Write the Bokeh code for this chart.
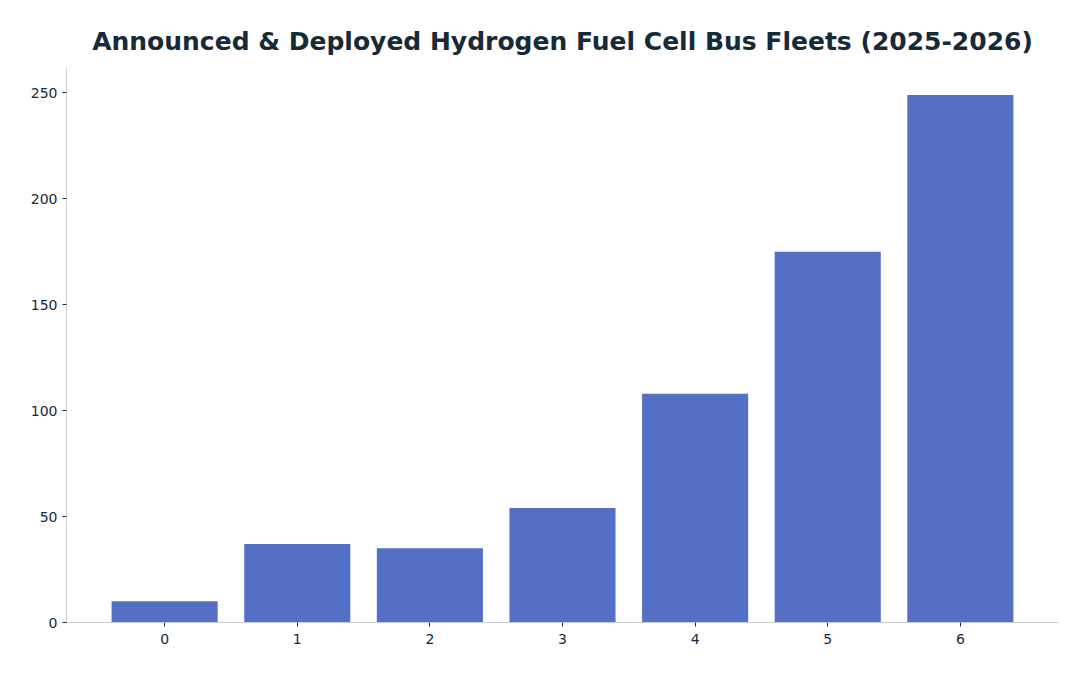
from bokeh.plotting import figure
from bokeh.models import Range1d, FixedTicker
from bokeh.embed import file_html
from bokeh.resources import INLINE

positions = [0, 1, 2, 3, 4, 5, 6]
fleet_sizes = [10, 37, 35, 54, 108, 175, 249]
y_ticks = [0, 50, 100, 150, 200, 250]

p = figure(
    width=1080, height=668,
    output_backend="svg", toolbar_location=None,
    x_range=Range1d(-0.74, 6.74), y_range=Range1d(0, 261.45),
    min_border_left=66, min_border_right=22, min_border_top=68, min_border_bottom=46,
    title="Announced & Deployed Hydrogen Fuel Cell Bus Fleets (2025-2026)",
)
p.vbar(x=positions, top=fleet_sizes, width=0.8, color="#5470c6", line_color=None)

p.title.text_font = "DejaVu Sans"
p.title.text_font_size = "25px"
p.title.text_font_style = "bold"
p.title.text_color = "#172a38"
p.title.align = "center"
p.title.standoff = 25

p.outline_line_color = None
p.xgrid.grid_line_color = None
p.ygrid.grid_line_color = None
p.background_fill_color = "white"
p.border_fill_color = "white"

p.xaxis.ticker = FixedTicker(ticks=positions)
p.yaxis.ticker = FixedTicker(ticks=y_ticks)
for ax in (p.xaxis, p.yaxis):
    ax.axis_line_color = "#c8cfd3"
    ax.major_tick_line_color = "#172a38"
    ax.major_tick_out = 4
    ax.major_tick_in = 0
    ax.minor_tick_line_color = None
    ax.major_label_text_font = "DejaVu Sans"
    ax.major_label_text_font_size = "14px"
    ax.major_label_text_color = "#172a38"
p.xaxis.major_label_standoff = 7
p.yaxis.major_label_standoff = 5

open("out.html", "w").write(file_html(p, INLINE))
